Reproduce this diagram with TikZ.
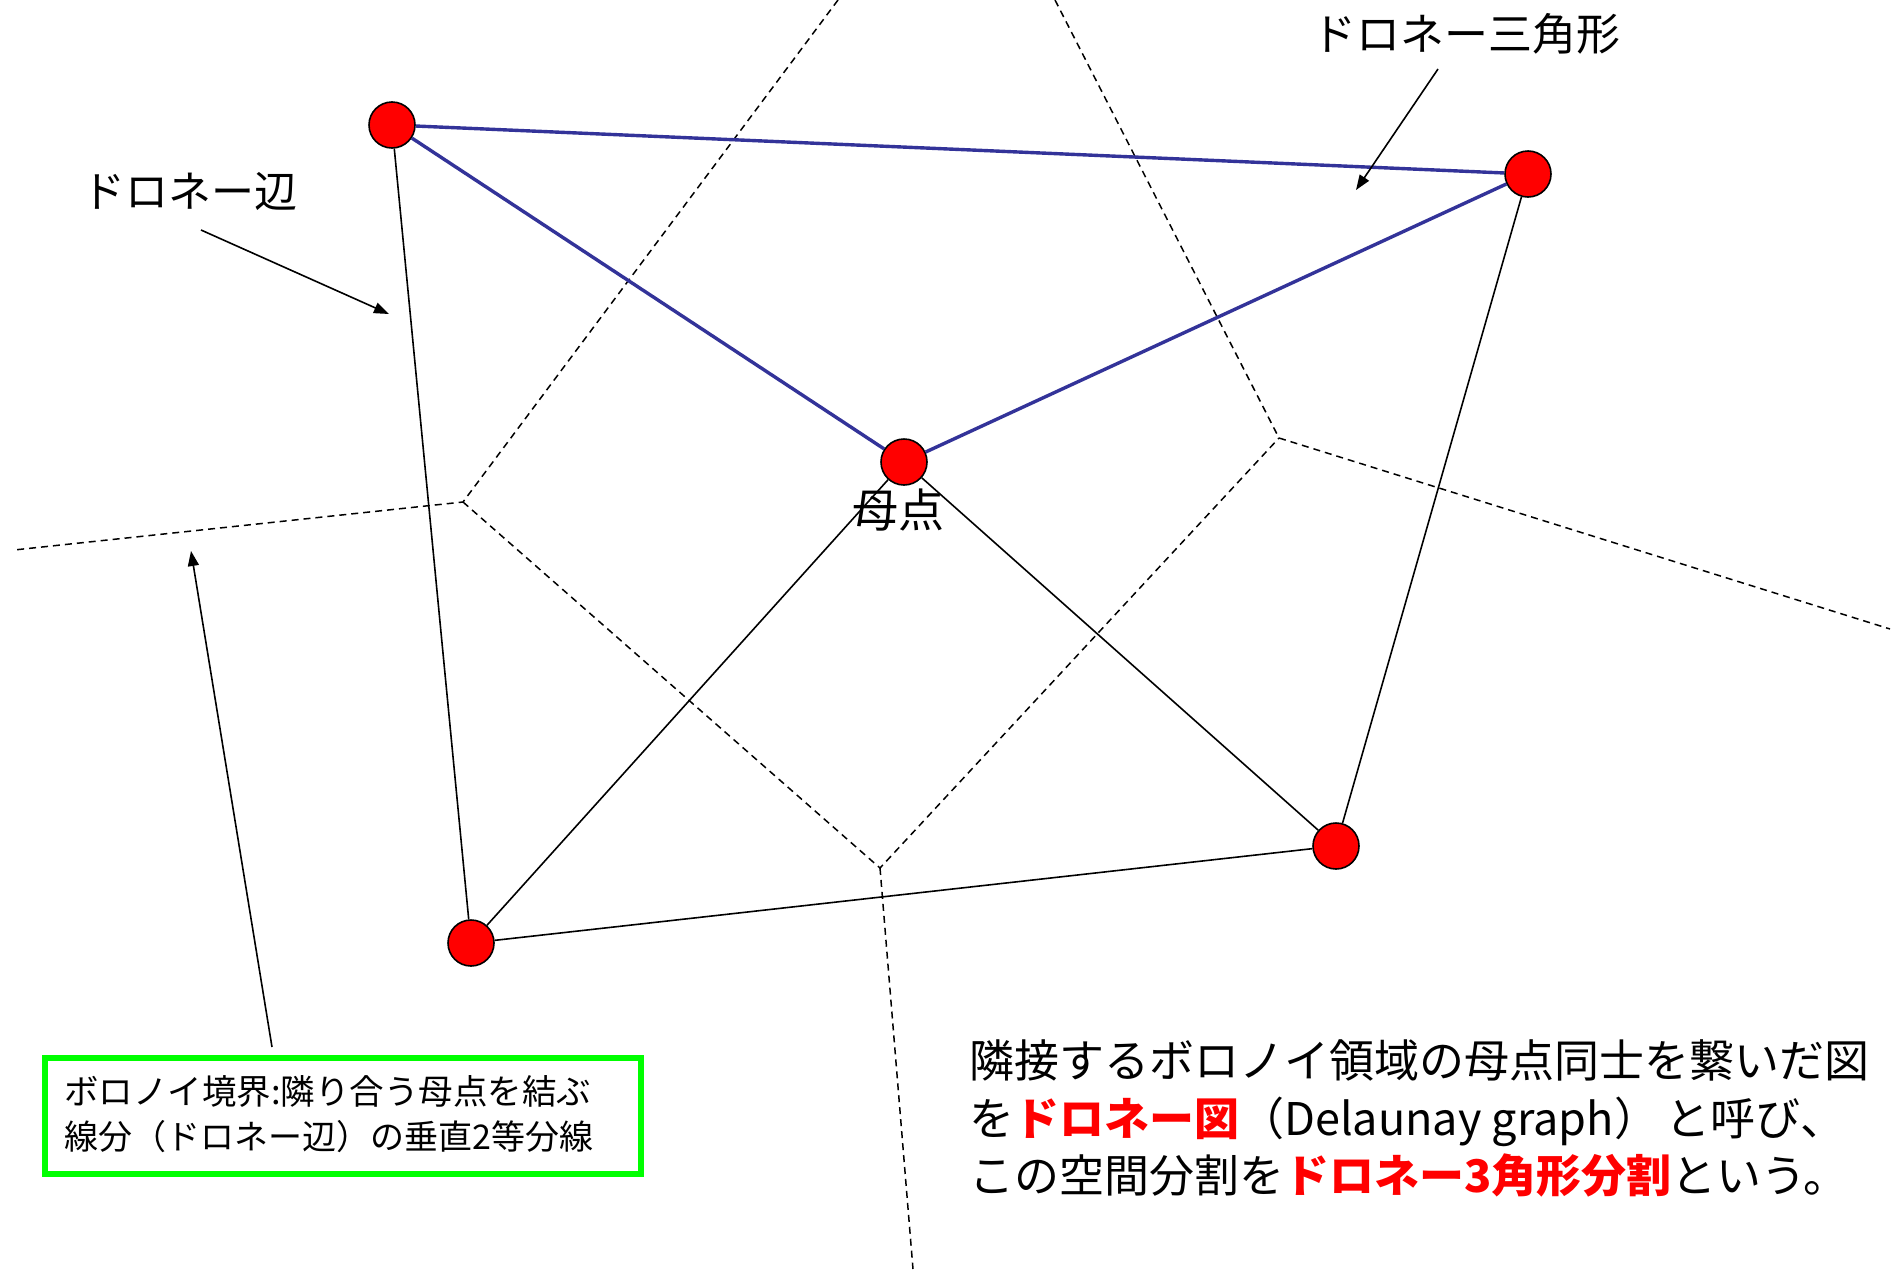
\documentclass[tikz,border=0pt]{standalone}
\usepackage{fontspec}
\setmainfont{Noto Sans CJK JP}
\usetikzlibrary{arrows.meta}
\definecolor{dblue}{HTML}{333399}
\definecolor{lgreen}{HTML}{00FF00}
\tikzset{
  site/.style={circle,draw=black,line width=1.6pt,fill=red,minimum size=46pt,inner sep=0pt},
  blueedge/.style={draw=dblue,line width=3.4pt},
  blackedge/.style={draw=black,line width=1.6pt},
  vor/.style={draw=black,line width=1.5pt,dash pattern=on 7pt off 5pt},
  pointer/.style={draw=black,line width=1.6pt,-{Triangle[length=15pt,width=11pt]}},
  lbl/.style={inner sep=0pt,anchor=base west},
}
\begin{document}
\begin{tikzpicture}[x=1pt,y=-1pt]
\fill[white] (0,0) rectangle (1895,1269);
\useasboundingbox (0,0) rectangle (1895,1269);
% Voronoi vertices and ends
\coordinate (V1) at (463,502);
\coordinate (V2) at (1279,438);
\coordinate (V3) at (880,868);
\coordinate (E1) at (838,0);
\coordinate (E2) at (1055,0);
\coordinate (E3) at (14,550);
\coordinate (E4) at (1890,629);
\coordinate (E5) at (913,1269);
\draw[vor] (E1) -- (V1) -- (E3);
\draw[vor] (V1) -- (V3) -- (V2);
\draw[vor] (E2) -- (V2) -- (E4);
\draw[vor] (V3) -- (E5);
% sites
\node[site] (P1) at (392,125) {};
\node[site] (P2) at (1528,174) {};
\node[site] (P3) at (904,462) {};
\node[site] (P4) at (471,943) {};
\node[site] (P5) at (1336,846) {};
% Delaunay edges
\draw[blackedge] (P1) -- (P4);
\draw[blackedge] (P4) -- (P3);
\draw[blackedge] (P3) -- (P5);
\draw[blackedge] (P2) -- (P5);
\draw[blackedge] (P4) -- (P5);
\draw[blueedge] (P1) -- (P2);
\draw[blueedge] (P1) -- (P3);
\draw[blueedge] (P3) -- (P2);
% labels
\node[lbl,font=\fontsize{46}{50}\selectfont] (L0) at (852,527) {母点};
\node[lbl,font=\fontsize{43}{50}\selectfont] (L1) at (82,207) {ドロネー辺};
\node[lbl,font=\fontsize{44}{50}\selectfont] (L2) at (1312,50) {ドロネー三角形};
\coordinate (A1s) at (201,230);
\coordinate (A1e) at (389,314);
\coordinate (A2s) at (1438,69);
\coordinate (A2e) at (1356,190);
\coordinate (A3s) at (272,1047);
\coordinate (A3e) at (191,551);
\draw[pointer] (A1s) -- (A1e);
\draw[pointer] (A2s) -- (A2e);
\draw[pointer] (A3s) -- (A3e);
% green box
\node[draw=lgreen,line width=6pt,minimum width=596pt,minimum height=116pt,inner sep=0pt] (box) at (342.5,1116) {};
\node[lbl,font=\fontsize{34.5}{45}\selectfont] (b1) at (64,1104) {ボロノイ境界:隣り合う母点を結ぶ};
\node[lbl,font=\fontsize{34}{45}\selectfont] (b2) at (64,1149) {線分（ドロネー辺）の垂直2等分線};
% big text
\node[lbl,font=\fontsize{45}{57}\selectfont] (t1) at (969,1077) {隣接するボロノイ領域の母点同士を繋いだ図};
\node[lbl,font=\fontsize{45}{57}\selectfont] (t2) at (969,1135) {を{\color{red}\bfseries ドロネー図}（Delaunay graph）\hspace{0.15em}と呼び、};
\node[lbl,font=\fontsize{45}{57}\selectfont] (t3) at (969,1192) {この空間分割を{\color{red}\bfseries ドロネー3角形分割}という。};
\end{tikzpicture}
\end{document}
